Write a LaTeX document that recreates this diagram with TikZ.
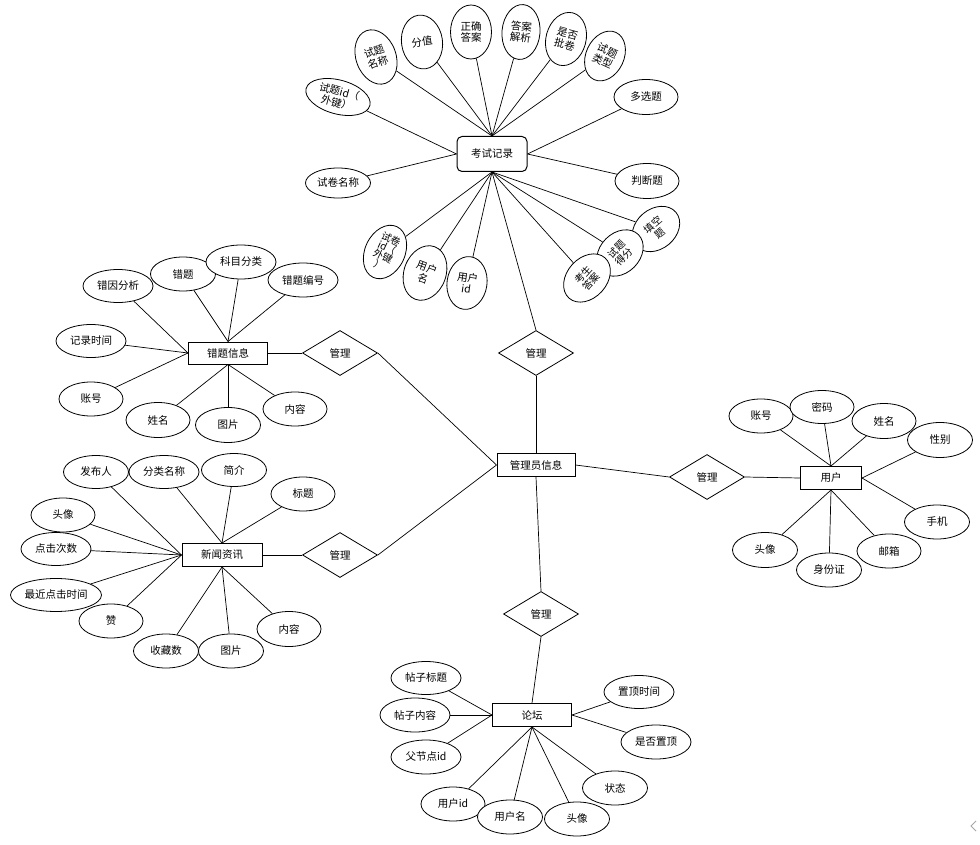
\documentclass[tikz,border=0pt]{standalone}
\usepackage{fontspec}
\setmainfont{Noto Sans CJK SC}
\usetikzlibrary{shapes.geometric,backgrounds}
\tikzset{
  base/.style={font=\fontsize{10.5}{11.5}\selectfont, align=center, inner sep=0pt, line width=0.8pt},
  attr/.style 2 args={base, ellipse, draw, fill=white, minimum width=#1, minimum height=#2},
  ent/.style={base, rectangle, draw, fill=white, line width=1pt, minimum width=79pt, minimum height=23pt},
  rel/.style={base, diamond, draw, fill=white, aspect=1.67, minimum width=75pt, minimum height=45pt},
  conn/.style={line width=0.7pt},
  small/.style={font=\fontsize{10}{10.5}\selectfont},
}
\begin{document}
\begin{tikzpicture}[x=1pt,y=-1pt]
\useasboundingbox (0,0) rectangle (980,845);
% entities
\node[ent, rounded corners=5pt, minimum width=70pt, minimum height=35pt] (ks) at (492,154) {考试记录};
\node[ent, minimum width=78pt] (adm) at (536,465) {管理员信息};
\node[ent, minimum height=22pt] (ct) at (228,353) {错题信息};
\node[ent, minimum width=80pt] (xw) at (222,555) {新闻资讯};
\node[ent, minimum width=61pt] (yh) at (831,478) {用户};
\node[ent] (lt) at (532,715) {论坛};
% relations
\node[rel] (d1) at (536,353) {管理};
\node[rel] (d2) at (340,353) {管理};
\node[rel] (d3) at (340,555) {管理};
\node[rel] (d4) at (541,614) {管理};
\node[rel] (d5) at (707,477) {管理};
% exam record attributes
\node[attr={66pt}{34pt}, rotate=-15] (k1) at (338,97) {试题id（\\外键）};
\node[attr={40pt}{56pt}, rotate=20] (k2) at (376,57) {试题\\名称};
\node[attr={41pt}{54pt}, rotate=8] (k3) at (422,42) {分值};
\node[attr={41pt}{54pt}] (k4) at (471,32) {正确\\答案};
\node[attr={38pt}{55pt}, rotate=-5] (k5) at (521,32) {答案\\解析};
\node[attr={40pt}{54pt}, rotate=-15] (k6) at (566,39) {是否\\批卷};
\node[attr={38pt}{52pt}, rotate=-25] (k7) at (605,56) {试题\\类型};
\node[attr={64pt}{35pt}] (k8) at (646,97) {多选题};
\node[attr={64pt}{35pt}] (k9) at (647,181) {判断题};
\node[attr={52pt}{40pt}, rotate=40, small] (k10) at (656,229) {填空\\题};
\node[attr={52pt}{40pt}, rotate=45, small] (k11) at (620,253) {试题\\得分};
\node[attr={54pt}{40pt}, rotate=48, small] (k12) at (587,278) {考生\\答案};
\node[attr={40pt}{53pt}, rotate=-8] (k13) at (467,283) {用户\\id};
\node[attr={42pt}{56pt}, rotate=-20] (k14) at (425,273) {用户\\名};
\node[attr={40pt}{56pt}, rotate=-25, font=\fontsize{10}{9.5}\selectfont] (k15) at (385,252) {试卷\\id（\\外键\\）};
\node[attr={65pt}{30pt}] (k16) at (338,183) {试卷名称};
% wrong-question attributes
\node[attr={70pt}{33pt}] (c1) at (118,286) {错因分析};
\node[attr={65pt}{34pt}] (c2) at (183,274) {错题};
\node[attr={70pt}{34pt}] (c3) at (241,262) {科目分类};
\node[attr={70pt}{34pt}] (c4) at (303,280) {错题编号};
\node[attr={70pt}{33pt}] (c5) at (91,341) {记录时间};
\node[attr={64pt}{34pt}] (c6) at (91,399) {账号};
\node[attr={64pt}{35pt}] (c7) at (158,420) {姓名};
\node[attr={65pt}{35pt}] (c8) at (228,425) {图片};
\node[attr={64pt}{34pt}] (c9) at (295,409) {内容};
% news attributes
\node[attr={65pt}{33pt}] (x1) at (96,472) {发布人};
\node[attr={70pt}{33pt}] (x2) at (164,472) {分类名称};
\node[attr={65pt}{33pt}] (x3) at (234,470) {简介};
\node[attr={64pt}{34pt}] (x4) at (303,494) {标题};
\node[attr={64pt}{34pt}] (x5) at (63,515) {头像};
\node[attr={70pt}{33pt}] (x6) at (56,549) {点击次数};
\node[attr={91pt}{33pt}] (x7) at (56,595) {最近点击时间};
\node[attr={64pt}{34pt}] (x8) at (111,621) {赞};
\node[attr={65pt}{34pt}] (x9) at (166,651) {收藏数};
\node[attr={65pt}{34pt}] (x10) at (231,651) {图片};
\node[attr={64pt}{35pt}] (x11) at (289,629) {内容};
% user attributes
\node[attr={64pt}{34pt}] (u1) at (761,416) {账号};
\node[attr={64pt}{33pt}] (u2) at (822,407) {密码};
\node[attr={64pt}{35pt}] (u3) at (884,421) {姓名};
\node[attr={65pt}{35pt}] (u4) at (940,440) {性别};
\node[attr={65pt}{34pt}] (u5) at (937,522) {手机};
\node[attr={65pt}{35pt}] (u6) at (765,550) {头像};
\node[attr={64pt}{34pt}] (u8) at (889,551) {邮箱};
\node[attr={65pt}{34pt}] (u7) at (829,570) {身份证};
% forum attributes
\node[attr={70pt}{33pt}] (l1) at (426,678) {帖子标题};
\node[attr={70pt}{34pt}] (l2) at (415,715) {帖子内容};
\node[attr={70pt}{34pt}] (l3) at (426,757) {父节点id};
\node[attr={70pt}{33pt}] (l4) at (639,692) {置顶时间};
\node[attr={70pt}{34pt}] (l5) at (656,742) {是否置顶};
\node[attr={65pt}{34pt}] (l6) at (615,788) {状态};
\node[attr={64pt}{34pt}] (l7) at (453,804) {用户id};
\node[attr={65pt}{34pt}] (l8) at (510,817) {用户名};
\node[attr={65pt}{34pt}] (l9) at (577,819) {头像};
% small scroll mark
\draw[gray!70, line width=0.8pt] (976,821) -- (971,826) -- (976,831);
\begin{pgfonlayer}{background}
\fill[white] (0,0) rectangle (980,845);
% relation lines
\draw[conn] (adm.west) -- (d2.east);
\draw[conn] (adm.west) -- (d3.east);
\draw[conn] (adm.north) -- (d1.south);
\draw[conn] (d1.north) -- (ks.south);
\draw[conn] (adm.south) -- (d4.north);
\draw[conn] (d4.south) -- (lt.north);
\draw[conn] (adm.east) -- (d5.west);
\draw[conn] (d5.east) -- (yh.west);
\draw[conn] (ct.east) -- (d2.west);
\draw[conn] (xw.east) -- (d3.west);
% exam attributes
\draw[conn] (ks.west) -- (k1);
\foreach \n in {k2,k3,k4,k5,k6,k7} \draw[conn] (ks.north) -- (\n);
\foreach \n in {k8,k9} \draw[conn] (ks.east) -- (\n);
\foreach \n in {k10,k11,k12,k13,k14,k15} \draw[conn] (ks.south) -- (\n);
\draw[conn] (ks.west) -- (k16);
% wrong-question
\foreach \n in {c1,c5,c6} \draw[conn] (ct.west) -- (\n);
\foreach \n in {c2,c3,c4} \draw[conn] (ct.north) -- (\n);
\foreach \n in {c7,c8,c9} \draw[conn] (ct.south) -- (\n);
% news
\foreach \n in {x1,x5,x6,x7,x8} \draw[conn] (xw.west) -- (\n);
\foreach \n in {x2,x3,x4} \draw[conn] (xw.north) -- (\n);
\foreach \n in {x9,x10,x11} \draw[conn] (xw.south) -- (\n);
% user
\foreach \n in {u1,u2,u3} \draw[conn] (yh.north) -- (\n);
\foreach \n in {u4,u5} \draw[conn] (yh.east) -- (\n);
\foreach \n in {u6,u7,u8} \draw[conn] (yh.south) -- (\n);
% forum
\foreach \n in {l1,l2,l3} \draw[conn] (lt.west) -- (\n);
\foreach \n in {l4,l5} \draw[conn] (lt.east) -- (\n);
\foreach \n in {l6,l7,l8,l9} \draw[conn] (lt.south) -- (\n);
\end{pgfonlayer}
\end{tikzpicture}
\end{document}
